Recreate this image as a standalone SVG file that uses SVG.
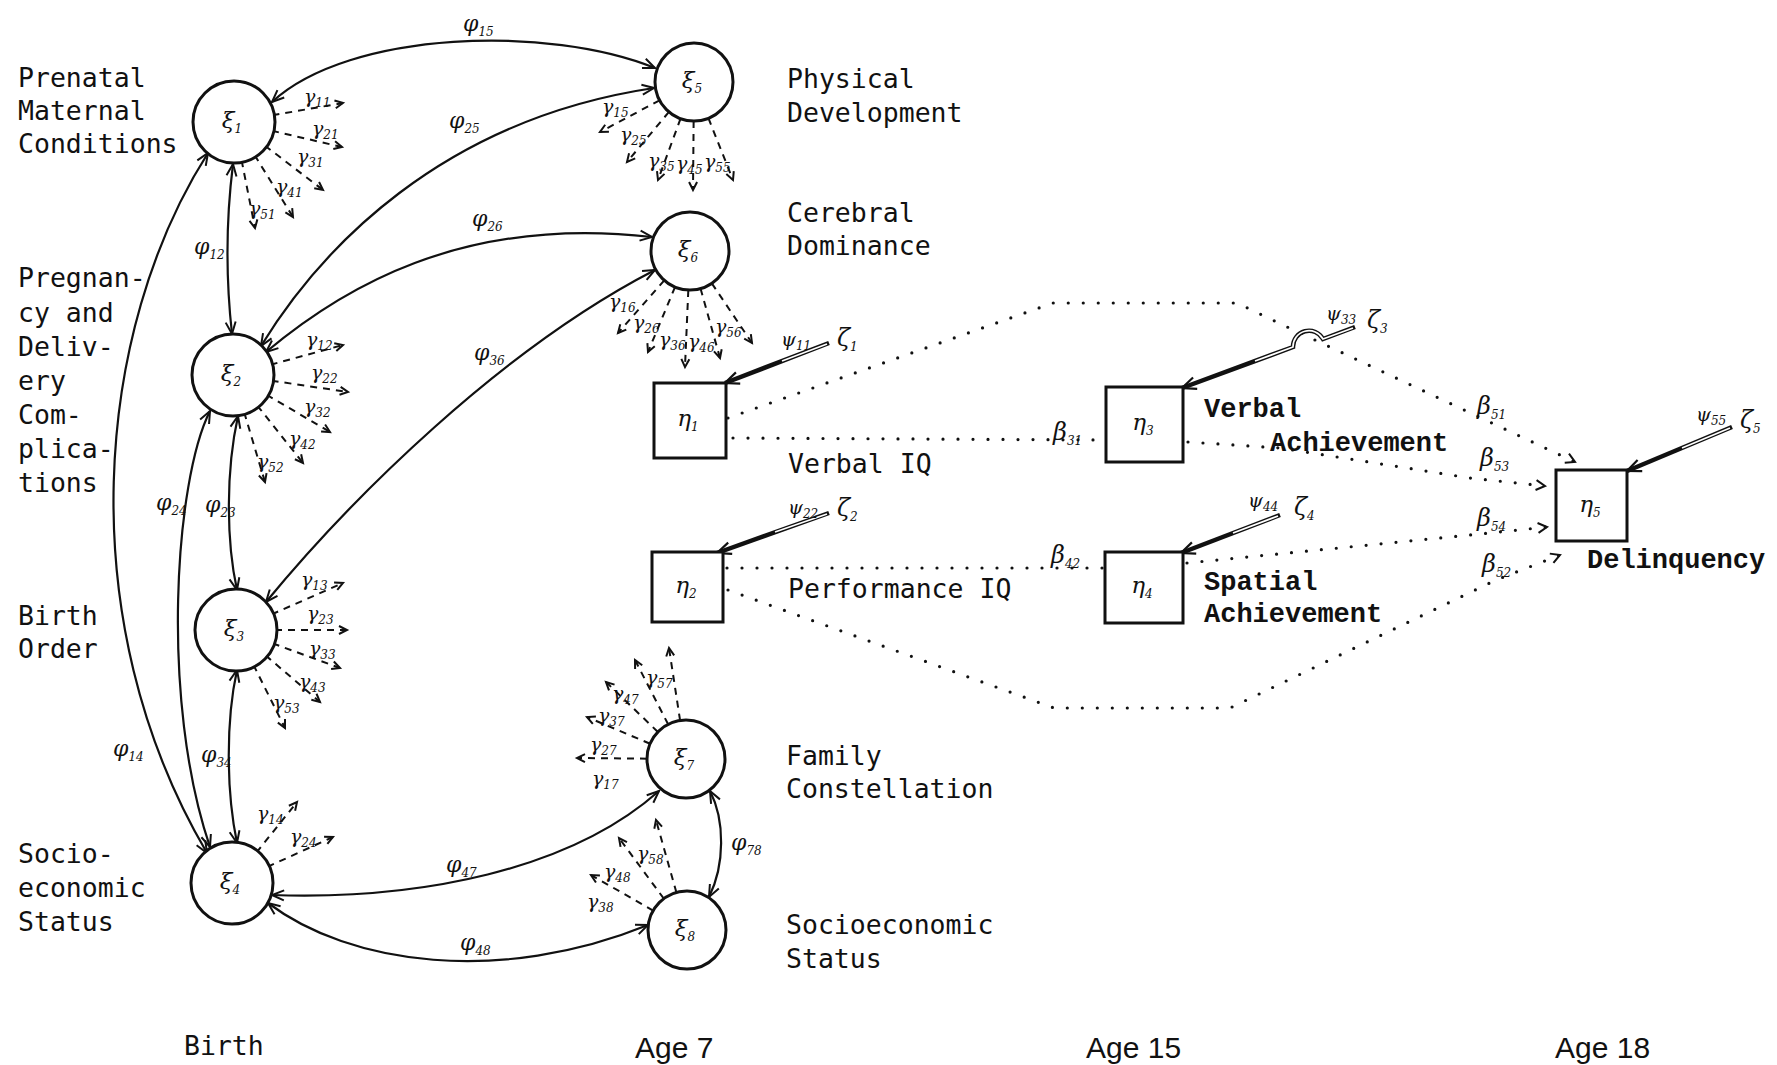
<svg xmlns="http://www.w3.org/2000/svg" width="1777" height="1065" viewBox="0 0 1777 1065">
<defs>
<marker id="ah" markerUnits="userSpaceOnUse" markerWidth="16" markerHeight="14" refX="13" refY="6" orient="auto-start-reverse" viewBox="0 0 16 12"><path d="M1,1 L13,6 L1,11" fill="none" stroke="#111" stroke-width="2"/></marker>
<marker id="ga" markerUnits="userSpaceOnUse" markerWidth="12" markerHeight="12" refX="9" refY="5" orient="auto" viewBox="0 0 12 10"><path d="M1,1 L9,5 L1,9" fill="none" stroke="#111" stroke-width="2"/></marker>
<marker id="ba" markerUnits="userSpaceOnUse" markerWidth="14" markerHeight="14" refX="10" refY="6" orient="auto" viewBox="0 0 14 12"><path d="M1,1 L10,6 L1,11" fill="none" stroke="#111" stroke-width="2"/></marker>
<marker id="pa" markerUnits="userSpaceOnUse" markerWidth="20" markerHeight="16" refX="15" refY="7" orient="auto" viewBox="0 0 20 14"><path d="M1,1 L15,7 L1,13" fill="none" stroke="#111" stroke-width="2.2"/></marker>
</defs>
<style>
.lbl{font-family:"DejaVu Sans Mono","Liberation Mono",monospace;font-size:26.5px;fill:#111}
.lblb{font-family:"Liberation Mono","DejaVu Sans Mono",monospace;font-size:27px;font-weight:bold;fill:#111}
.age{font-family:"Liberation Sans",Arial,sans-serif;font-size:30px;fill:#111}
.gk{font-family:"DejaVu Serif","Liberation Serif",serif;font-style:italic;font-size:19px;fill:#111}
.gp{font-family:"DejaVu Serif","Liberation Serif",serif;font-style:italic;font-size:22px;fill:#111}
.gb{font-family:"DejaVu Serif","Liberation Serif",serif;font-style:italic;font-size:24px;fill:#111}
.sub{font-size:12px}
.nd{font-family:"DejaVu Serif","Liberation Serif",serif;font-style:italic;font-size:23px;text-anchor:middle;fill:#111}
.phi{fill:none;stroke:#111;stroke-width:2.2;marker-start:url(#ah);marker-end:url(#ah)}
.gam{fill:none;stroke:#111;stroke-width:2;stroke-dasharray:7 6;marker-end:url(#ga)}
.dot{fill:none;stroke:#111;stroke-width:3.2;stroke-dasharray:0 15;stroke-linecap:round}
.dota{fill:none;stroke:#111;stroke-width:3.2;stroke-dasharray:0 15;stroke-linecap:round;marker-end:url(#ba)}
.psi{fill:none;stroke:#111;stroke-width:4.5;marker-end:url(#pa)}
.psiw{fill:none;stroke:#fff;stroke-width:1.7}
.circ{fill:#fff;stroke:#111;stroke-width:3}
.box{fill:#fff;stroke:#111;stroke-width:3}
</style>
<rect x="0" y="0" width="1777" height="1065" fill="#fff"/>

<g id="connectors">
  <!-- phi correlations -->
  <path class="phi" d="M272,102 C350,30 550,25 655,68"/>
  <path class="phi" d="M261,346 C320,250 440,120 654,88"/>
  <path class="phi" d="M266,352 C340,290 460,215 652,237"/>
  <path class="phi" d="M266,602 C350,500 500,350 655,270"/>
  <path class="phi" d="M233,164 C226,220 226,280 232,334"/>
  <path class="phi" d="M208,153 C95,330 70,620 207,853"/>
  <path class="phi" d="M210,411 C175,480 160,700 210,847"/>
  <path class="phi" d="M238,416 C226,470 226,540 237,590"/>
  <path class="phi" d="M237,670 C226,720 226,790 237,843"/>
  <path class="phi" d="M272,895 C420,900 570,870 659,791"/>
  <path class="phi" d="M268,903 C350,965 500,985 648,925"/>
  <path class="phi" d="M710,791 C725,820 725,865 709,897"/>

  <!-- gamma dashed arrows -->
  <line class="gam" x1="234" y1="122" x2="343" y2="103"/>
  <line class="gam" x1="234" y1="122" x2="342" y2="147"/>
  <line class="gam" x1="234" y1="122" x2="323" y2="190"/>
  <line class="gam" x1="234" y1="122" x2="293" y2="217"/>
  <line class="gam" x1="234" y1="122" x2="255" y2="228"/>

  <line class="gam" x1="233" y1="375" x2="343" y2="345"/>
  <line class="gam" x1="233" y1="375" x2="348" y2="392"/>
  <line class="gam" x1="233" y1="375" x2="330" y2="432"/>
  <line class="gam" x1="233" y1="375" x2="303" y2="463"/>
  <line class="gam" x1="233" y1="375" x2="265" y2="482"/>

  <line class="gam" x1="236" y1="630" x2="343" y2="583"/>
  <line class="gam" x1="236" y1="630" x2="347" y2="630"/>
  <line class="gam" x1="236" y1="630" x2="340" y2="668"/>
  <line class="gam" x1="236" y1="630" x2="320" y2="702"/>
  <line class="gam" x1="236" y1="630" x2="285" y2="728"/>

  <line class="gam" x1="232" y1="883" x2="297" y2="802"/>
  <line class="gam" x1="232" y1="883" x2="333" y2="837"/>

  <line class="gam" x1="694" y1="82" x2="600" y2="132"/>
  <line class="gam" x1="694" y1="82" x2="627" y2="162"/>
  <line class="gam" x1="694" y1="82" x2="658" y2="180"/>
  <line class="gam" x1="694" y1="82" x2="693" y2="190"/>
  <line class="gam" x1="694" y1="82" x2="733" y2="180"/>

  <line class="gam" x1="690" y1="251" x2="618" y2="333"/>
  <line class="gam" x1="690" y1="251" x2="648" y2="352"/>
  <line class="gam" x1="690" y1="251" x2="685" y2="367"/>
  <line class="gam" x1="690" y1="251" x2="720" y2="358"/>
  <line class="gam" x1="690" y1="251" x2="752" y2="343"/>

  <line class="gam" x1="686" y1="759" x2="669" y2="648"/>
  <line class="gam" x1="686" y1="759" x2="635" y2="660"/>
  <line class="gam" x1="686" y1="759" x2="606" y2="682"/>
  <line class="gam" x1="686" y1="759" x2="587" y2="717"/>
  <line class="gam" x1="686" y1="759" x2="577" y2="758"/>

  <line class="gam" x1="687" y1="930" x2="656" y2="820"/>
  <line class="gam" x1="687" y1="930" x2="619" y2="838"/>
  <line class="gam" x1="687" y1="930" x2="591" y2="875"/>

  <!-- beta dotted paths -->
  <path class="dota" d="M728,418 L1053,303 L1237,303 L1283,325 L1575,462"/>
  <path class="dot" d="M733,438 L1103,440"/>
  <path class="dot" d="M727,568 L1103,568"/>
  <path class="dota" d="M728,590 L1054,708 L1230,708 L1496,580 L1560,555"/>
  <path class="dota" d="M1188,442 L1280,448 L1470,478 L1545,486"/>
  <path class="dota" d="M1187,563 L1470,535 L1547,527"/>

  <!-- psi disturbance arrows -->
  <path class="psi" d="M829,343 L725,383"/>
  <path class="psiw" d="M827,344 L782,361"/>
  <path class="psi" d="M829,513 L717,553"/>
  <path class="psiw" d="M827,514 L775,532"/>
  <path class="psi" d="M1355,327 L1323,339 A16,16 0 0 0 1293,347 L1182,388"/>
  <path class="psiw" d="M1353,328 L1323,339 A16,16 0 0 0 1293,347 L1255,361"/>
  <path class="psi" d="M1280,515 L1181,553"/>
  <path class="psiw" d="M1278,516 L1233,533"/>
  <path class="psi" d="M1732,427 L1627,471"/>
  <path class="psiw" d="M1730,428 L1682,448"/>

  <!-- phi labels -->
  <text class="gp" x="463" y="31">φ<tspan class="sub" dy="5">15</tspan></text>
  <text class="gp" x="449" y="128">φ<tspan class="sub" dy="5">25</tspan></text>
  <text class="gp" x="472" y="226">φ<tspan class="sub" dy="5">26</tspan></text>
  <text class="gp" x="474" y="360">φ<tspan class="sub" dy="5">36</tspan></text>
  <text class="gp" x="194" y="254">φ<tspan class="sub" dy="5">12</tspan></text>
  <text class="gp" x="156" y="510">φ<tspan class="sub" dy="5">24</tspan></text>
  <text class="gp" x="205" y="512">φ<tspan class="sub" dy="5">23</tspan></text>
  <text class="gp" x="113" y="756">φ<tspan class="sub" dy="5">14</tspan></text>
  <text class="gp" x="201" y="762">φ<tspan class="sub" dy="5">34</tspan></text>
  <text class="gp" x="446" y="872">φ<tspan class="sub" dy="5">47</tspan></text>
  <text class="gp" x="460" y="950">φ<tspan class="sub" dy="5">48</tspan></text>
  <text class="gp" x="731" y="850">φ<tspan class="sub" dy="5">78</tspan></text>

  <!-- gamma labels -->
  <text class="gk" x="304" y="103">γ<tspan class="sub" dy="4">11</tspan></text>
  <text class="gk" x="312" y="135">γ<tspan class="sub" dy="4">21</tspan></text>
  <text class="gk" x="297" y="163">γ<tspan class="sub" dy="4">31</tspan></text>
  <text class="gk" x="276" y="193">γ<tspan class="sub" dy="4">41</tspan></text>
  <text class="gk" x="249" y="215">γ<tspan class="sub" dy="4">51</tspan></text>

  <text class="gk" x="306" y="346">γ<tspan class="sub" dy="4">12</tspan></text>
  <text class="gk" x="311" y="379">γ<tspan class="sub" dy="4">22</tspan></text>
  <text class="gk" x="304" y="413">γ<tspan class="sub" dy="4">32</tspan></text>
  <text class="gk" x="289" y="445">γ<tspan class="sub" dy="4">42</tspan></text>
  <text class="gk" x="257" y="468">γ<tspan class="sub" dy="4">52</tspan></text>

  <text class="gk" x="301" y="586">γ<tspan class="sub" dy="4">13</tspan></text>
  <text class="gk" x="307" y="620">γ<tspan class="sub" dy="4">23</tspan></text>
  <text class="gk" x="309" y="655">γ<tspan class="sub" dy="4">33</tspan></text>
  <text class="gk" x="299" y="688">γ<tspan class="sub" dy="4">43</tspan></text>
  <text class="gk" x="273" y="709">γ<tspan class="sub" dy="4">53</tspan></text>

  <text class="gk" x="257" y="820">γ<tspan class="sub" dy="4">14</tspan></text>
  <text class="gk" x="290" y="843">γ<tspan class="sub" dy="4">24</tspan></text>

  <text class="gk" x="602" y="113">γ<tspan class="sub" dy="4">15</tspan></text>
  <text class="gk" x="620" y="141">γ<tspan class="sub" dy="4">25</tspan></text>
  <text class="gk" x="648" y="167">γ<tspan class="sub" dy="4">35</tspan></text>
  <text class="gk" x="676" y="170">γ<tspan class="sub" dy="4">45</tspan></text>
  <text class="gk" x="704" y="168">γ<tspan class="sub" dy="4">55</tspan></text>

  <text class="gk" x="609" y="308">γ<tspan class="sub" dy="4">16</tspan></text>
  <text class="gk" x="633" y="329">γ<tspan class="sub" dy="4">26</tspan></text>
  <text class="gk" x="659" y="346">γ<tspan class="sub" dy="4">36</tspan></text>
  <text class="gk" x="688" y="348">γ<tspan class="sub" dy="4">46</tspan></text>
  <text class="gk" x="715" y="333">γ<tspan class="sub" dy="4">56</tspan></text>

  <text class="gk" x="646" y="684">γ<tspan class="sub" dy="4">57</tspan></text>
  <text class="gk" x="612" y="700">γ<tspan class="sub" dy="4">47</tspan></text>
  <text class="gk" x="598" y="722">γ<tspan class="sub" dy="4">37</tspan></text>
  <text class="gk" x="590" y="751">γ<tspan class="sub" dy="4">27</tspan></text>
  <text class="gk" x="592" y="785">γ<tspan class="sub" dy="4">17</tspan></text>

  <text class="gk" x="637" y="860">γ<tspan class="sub" dy="4">58</tspan></text>
  <text class="gk" x="604" y="878">γ<tspan class="sub" dy="4">48</tspan></text>
  <text class="gk" x="587" y="908">γ<tspan class="sub" dy="4">38</tspan></text>

  <!-- beta labels -->
  <text class="gb" x="1477" y="414">β<tspan class="sub" dy="5">51</tspan></text>
  <text class="gb" x="1053" y="440">β<tspan class="sub" dy="5">31</tspan></text>
  <text class="gb" x="1051" y="563">β<tspan class="sub" dy="5">42</tspan></text>
  <text class="gb" x="1480" y="466">β<tspan class="sub" dy="5">53</tspan></text>
  <text class="gb" x="1477" y="526">β<tspan class="sub" dy="5">54</tspan></text>
  <text class="gb" x="1482" y="572">β<tspan class="sub" dy="5">52</tspan></text>

  <!-- psi / zeta labels -->
  <text class="gk" x="781" y="346">ψ<tspan class="sub" dy="4">11</tspan></text>
  <text class="gb" x="837" y="346">ζ<tspan class="sub" dy="5">1</tspan></text>
  <text class="gk" x="788" y="514">ψ<tspan class="sub" dy="4">22</tspan></text>
  <text class="gb" x="837" y="516">ζ<tspan class="sub" dy="5">2</tspan></text>
  <text class="gk" x="1326" y="320">ψ<tspan class="sub" dy="4">33</tspan></text>
  <text class="gb" x="1367" y="328">ζ<tspan class="sub" dy="5">3</tspan></text>
  <text class="gk" x="1248" y="507">ψ<tspan class="sub" dy="4">44</tspan></text>
  <text class="gb" x="1294" y="515">ζ<tspan class="sub" dy="5">4</tspan></text>
  <text class="gk" x="1696" y="421">ψ<tspan class="sub" dy="4">55</tspan></text>
  <text class="gb" x="1740" y="428">ζ<tspan class="sub" dy="5">5</tspan></text>
</g>

<g id="xi1"><circle class="circ" cx="234" cy="122" r="41"/><text class="nd" x="232" y="128">ξ<tspan class="sub" dy="5">1</tspan></text></g>
<g id="xi2"><circle class="circ" cx="233" cy="375" r="41"/><text class="nd" x="231" y="381">ξ<tspan class="sub" dy="5">2</tspan></text></g>
<g id="xi3"><circle class="circ" cx="236" cy="630" r="41"/><text class="nd" x="234" y="636">ξ<tspan class="sub" dy="5">3</tspan></text></g>
<g id="xi4"><circle class="circ" cx="232" cy="883" r="41"/><text class="nd" x="230" y="889">ξ<tspan class="sub" dy="5">4</tspan></text></g>
<g id="xi5"><circle class="circ" cx="694" cy="82" r="39"/><text class="nd" x="692" y="88">ξ<tspan class="sub" dy="5">5</tspan></text></g>
<g id="xi6"><circle class="circ" cx="690" cy="251" r="39"/><text class="nd" x="688" y="257">ξ<tspan class="sub" dy="5">6</tspan></text></g>
<g id="xi7"><circle class="circ" cx="686" cy="759" r="39"/><text class="nd" x="684" y="765">ξ<tspan class="sub" dy="5">7</tspan></text></g>
<g id="xi8"><circle class="circ" cx="687" cy="930" r="39"/><text class="nd" x="685" y="936">ξ<tspan class="sub" dy="5">8</tspan></text></g>

<g id="eta1"><rect class="box" x="654" y="383" width="72" height="75"/><text class="nd" x="688" y="426">η<tspan class="sub" dy="5">1</tspan></text></g>
<g id="eta2"><rect class="box" x="652" y="552" width="71" height="70"/><text class="nd" x="686" y="593">η<tspan class="sub" dy="5">2</tspan></text></g>
<g id="eta3"><rect class="box" x="1106" y="387" width="77" height="75"/><text class="nd" x="1143" y="430">η<tspan class="sub" dy="5">3</tspan></text></g>
<g id="eta4"><rect class="box" x="1105" y="552" width="78" height="71"/><text class="nd" x="1142" y="593">η<tspan class="sub" dy="5">4</tspan></text></g>
<g id="eta5"><rect class="box" x="1556" y="470" width="71" height="71"/><text class="nd" x="1590" y="512">η<tspan class="sub" dy="5">5</tspan></text></g>

<g id="labels">
  <text class="lbl" x="18" y="87">Prenatal</text>
  <text class="lbl" x="18" y="120">Maternal</text>
  <text class="lbl" x="18" y="153">Conditions</text>
  <text class="lbl" x="18" y="287">Pregnan-</text>
  <text class="lbl" x="18" y="322">cy and</text>
  <text class="lbl" x="18" y="356">Deliv-</text>
  <text class="lbl" x="18" y="390">ery</text>
  <text class="lbl" x="18" y="424">Com-</text>
  <text class="lbl" x="18" y="458">plica-</text>
  <text class="lbl" x="18" y="492">tions</text>
  <text class="lbl" x="18" y="625">Birth</text>
  <text class="lbl" x="18" y="658">Order</text>
  <text class="lbl" x="18" y="863">Socio-</text>
  <text class="lbl" x="18" y="897">economic</text>
  <text class="lbl" x="18" y="931">Status</text>

  <text class="lbl" x="787" y="88">Physical</text>
  <text class="lbl" x="787" y="122">Development</text>
  <text class="lbl" x="787" y="222">Cerebral</text>
  <text class="lbl" x="787" y="255">Dominance</text>
  <text class="lbl" x="788" y="473">Verbal IQ</text>
  <text class="lbl" x="788" y="598">Performance IQ</text>
  <text class="lbl" x="786" y="765">Family</text>
  <text class="lbl" x="786" y="798">Constellation</text>
  <text class="lbl" x="786" y="934">Socioeconomic</text>
  <text class="lbl" x="786" y="968">Status</text>

  <text class="lblb" x="1204" y="417">Verbal</text>
  <text class="lblb" x="1270" y="451">Achievement</text>
  <text class="lblb" x="1204" y="590">Spatial</text>
  <text class="lblb" x="1204" y="622">Achievement</text>
  <text class="lblb" x="1587" y="568">Delinquency</text>

  <text class="lbl" x="184" y="1055">Birth</text>
  <text class="age" x="635" y="1058">Age 7</text>
  <text class="age" x="1086" y="1058">Age 15</text>
  <text class="age" x="1555" y="1058">Age 18</text>
</g>
</svg>
